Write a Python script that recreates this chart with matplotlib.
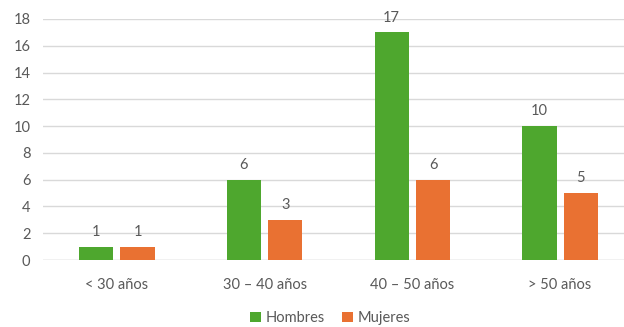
import matplotlib
matplotlib.use("Agg")
import matplotlib.pyplot as plt
import numpy as np

categories = ["< 30 años", "30 – 40 años", "40 – 50 años", "> 50 años"]
hombres = [1, 6, 17, 10]
mujeres = [1, 3, 6, 5]
series_names = ["Hombres", "Mujeres"]
yticks = [0, 2, 4, 6, 8, 10, 12, 14, 16, 18]

GREEN = "#4EA72E"
ORANGE = "#E97132"
TXT = "#595959"
FS = 10.5

plt.rcParams['font.family'] = ['Lato', 'DejaVu Sans']

fig = plt.figure(figsize=(6.24, 3.27), dpi=100)
W, H = 624, 327
left, right = 43, 634
bottom, top = 260, 19
ax = fig.add_axes([left / W, 1 - bottom / H, (right - left) / W, (bottom - top) / H])

x = np.arange(len(categories))
w = 0.232
off = 0.14
b1 = ax.bar(x - off, hombres, w, color=GREEN, label=series_names[0], zorder=3)
b2 = ax.bar(x + off, mujeres, w, color=ORANGE, label=series_names[1], zorder=3)

for bars in (b1, b2):
    for r in bars:
        ax.annotate(f"{int(r.get_height())}", (r.get_x() + r.get_width() / 2, r.get_height()),
                    xytext=(0, 5.5), textcoords="offset points", ha="center", va="bottom",
                    fontsize=FS, color=TXT)

ax.set_xlim(-0.5, len(categories) - 0.5)
ax.set_ylim(0, 18)
ax.set_yticks(yticks)
ax.set_xticks(x)
ax.set_xticklabels(categories)
ax.tick_params(axis='both', length=0, labelsize=FS, labelcolor=TXT)
ax.tick_params(axis='x', pad=13)
ax.tick_params(axis='y', pad=9)
for s in ax.spines.values():
    s.set_visible(False)
ax.grid(axis='y', color="#D9D9D9", linewidth=1, zorder=0)
ax.axhline(0, color="#D9D9D9", linewidth=1, zorder=2)

leg = fig.legend(handles=[b1, b2], labels=series_names, loc='center', bbox_to_anchor=(330 / W, 1 - 318 / H),
                 ncol=2, frameon=False, fontsize=FS, handlelength=0.75, handleheight=0.75,
                 handletextpad=0.3, columnspacing=1.2)
for t in leg.get_texts():
    t.set_color(TXT)

fig.savefig("out.png", dpi=100)
